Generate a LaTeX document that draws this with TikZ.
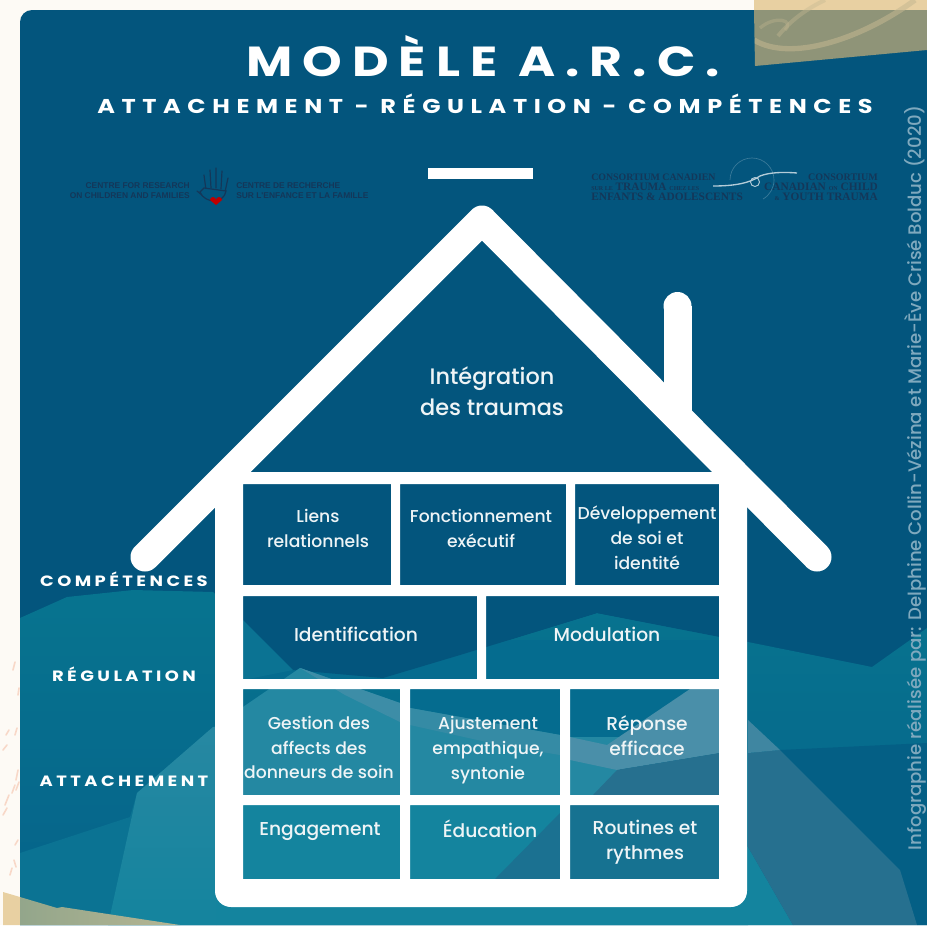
\documentclass[tikz,border=0pt]{standalone}
\usepackage{fontspec}
\setmainfont{Poppins Medium}[BoldFont=Poppins Bold]
\newfontfamily\logoserif{Liberation Serif}
\newfontfamily\logosans{Liberation Sans}
\newcommand{\wideface}[1]{\addfontfeature{FakeStretch=1.2,LetterSpace=#1}}
\definecolor{cA}{HTML}{03557D}
\definecolor{cB}{HTML}{056C8F}
\definecolor{cBt}{HTML}{07748F}
\definecolor{cBb}{HTML}{05628A}
\definecolor{cC}{HTML}{0B7393}
\definecolor{cD}{HTML}{14849E}
\definecolor{cE}{HTML}{2488A2}
\definecolor{cF}{HTML}{26708F}
\definecolor{cG}{HTML}{045F85}
\definecolor{cH}{HTML}{4A8FA9}
\definecolor{logoink}{HTML}{143759}
\definecolor{paper}{HTML}{FDFAF5}
\definecolor{beige}{HTML}{E8D0A2}
\definecolor{olive}{HTML}{8F9478}
\definecolor{sage}{HTML}{93A68B}
\definecolor{sidetext}{HTML}{7FA9BE}
\definecolor{boxink}{HTML}{EEF4F6}
\tikzset{
  x=0.75pt,y=-0.75pt,
  boxtext/.style={text=boxink,align=center,font=\fontsize{12.9}{18.6}\selectfont,inner sep=0pt},
  boxbig/.style={boxtext,font=\fontsize{14}{18.6}\selectfont},
  sidelabel/.style={text=white,inner sep=0pt,font=\fontsize{11.2}{13}\bfseries\selectfont\wideface{23}},
  roofline/.style={draw=white,line width=21.75pt,line cap=round,line join=round},
  logoen/.style={text=logoink,inner sep=0pt,align=right,font=\logosans\fontsize{6.3}{8}\bfseries\selectfont},
  logofr/.style={text=logoink,inner sep=0pt,align=left,font=\logosans\fontsize{6.3}{8}\bfseries\selectfont},
  logotr/.style={text=logoink,inner sep=0pt,font=\logoserif\fontsize{8.5}{7.5}\bfseries\selectfont},
  streak/.style={line width=1.2pt,line cap=round,opacity=.75},
}
\begin{document}
\begin{tikzpicture}
\useasboundingbox (0,0) rectangle (927,925);
\fill[paper] (0,0) rectangle (927,925);
% speckles on the paper
\foreach \ax/\ay/\bx/\by in {6/735/9/730,17/728/15/735,3/750/7/745,16/780/18/770,5/805/9/795,12/793/15/785,3/815/7/808,15/845/18/840,14/860/16/867,13/670/15/662,16/790/19/782,10/875/12/868,18/695/19/688}
  \draw[streak,color={rgb,255:red,247;green,205;blue,185}] (\ax,\ay) -- (\bx,\by);
% card
\begin{scope}
\clip[rounded corners=9pt] (20,10) -- (927,10) -- (927,940) -- (20,940) -- cycle;
\fill[cA] (0,0) rectangle (927,925);
\shade[top color=cBt,bottom color=cBb,shading angle=0] (20,618) -- (67,597) -- (133,590) -- (213,592) -- (243,620) -- (293,670) -- (383,678) -- (460,655) -- (597,613) -- (748,642) -- (872,667) -- (927,628) -- (927,925) -- (20,925) -- cycle;
\fill[cB] (243,640) rectangle (720,679);
\fill[cA] (243,596) -- (243,620) -- (293,670) -- (383,678) -- (460,655) -- (597,613) -- (720,637) -- (720,596) -- cycle;
\fill[cB] (400,689) rectangle (720,735);
\fill[cC] (20,853) -- (130,817) -- (137,793) -- (213,727) -- (300,668) -- (410,708) -- (560,735) -- (748,750) -- (748,925) -- (20,925) -- cycle;
\shade[top color=cH!35!cD,bottom color=cD,shading angle=0] (137,793) -- (213,727) -- (216,727) -- (216,925) -- (108,925) -- cycle;
\fill[cD] (216,795) -- (216,925) -- (793,925) -- (748,847) -- (560,795) -- cycle;
% inside the house
\fill[cE] (243,707) -- (300,668) -- (400,703) -- (400,795) -- (243,795) -- cycle;
\fill[cH!65!cE] (300,668) -- (400,703) -- (400,722) -- (345,695) -- cycle;
\fill[cE] (410,708) -- (560,735) -- (560,795) -- (410,795) -- cycle;
\fill[cH!45!cE] (410,708) -- (560,735) -- (560,755) -- (500,745) -- (410,725) -- cycle;
\fill[cB] (570,689) rectangle (720,795);
\fill[cE] (570,737) rectangle (620,795);
\fill[cH] (570,737) -- (607,745) -- (690,689) -- (720,689) -- (720,753) -- (617,770) -- (570,760) -- cycle;
\fill[cF] (593,795) -- (617,770) -- (720,753) -- (720,795) -- cycle;
\fill[cF!60!cC] (560,813) -- (495,879) -- (560,879) -- cycle;
\fill[cF!40!cC] (570,805) rectangle (720,879);
\fill[cC] (243,620) -- (293,670) -- (243,680) -- cycle;
% right of the house
\fill[cG] (780,750) -- (927,743) -- (927,925) -- (917,925) -- (900,870) -- cycle;
\fill[cF] (748,753) -- (780,750) -- (900,870) -- (917,925) -- (793,925) -- (748,847) -- cycle;
\fill[cH!70!cF] (748,720) -- (780,750) -- (748,753) -- cycle;
\end{scope}
% house walls with the boxes cut out
\fill[white,even odd rule,rounded corners=9pt]
  (230,472) [sharp corners] -- (734,472) -- (747,490) [rounded corners=12pt] -- (747,907) -- (215,907) [sharp corners] -- (215,490) -- cycle
  (243,484) rectangle (391,585) (400,484) rectangle (566,585) (575,484) rectangle (719,585)
  (243,596) rectangle (477,679) (486,596) rectangle (719,679)
  (243,689) rectangle (400,795) (410,689) rectangle (560,795) (570,689) rectangle (719,795)
  (243,805) rectangle (400,879) (410,805) rectangle (560,879) (570,805) rectangle (719,879);
\draw[roofline] (145,557) -- (482,220) -- (817,557);
\draw[draw=white,line width=21pt,line cap=butt] (677.5,412) -- (677.5,306);
\fill[white] (677.5,306) circle[radius=14];
\fill[white] (428,168) rectangle (533,179);
% paper pieces
\fill[beige] (754,0) -- (927,0) -- (927,10) -- (754,10) -- cycle;
\fill[olive] (754,10) -- (927,10) -- (927,50) -- (755,66) -- cycle;
\begin{scope}
\clip (754,0) -- (927,0) -- (927,50) -- (755,66) -- cycle;
\draw[beige!60!olive,line width=4pt,opacity=.55] (754,40) .. controls (790,62) and (860,40) .. (915,0);
\draw[beige!60!olive,line width=3pt,opacity=.4] (778,36) .. controls (795,15) and (815,5) .. (825,0);
\draw[beige!60!olive,line width=2.5pt,opacity=.35] (760,28) .. controls (775,15) and (795,20) .. (785,30);
\end{scope}
\fill[beige] (3,892) -- (20,897) -- (20,925) -- (3,925) -- cycle;
\shade[left color=sage,right color=sage!55!beige!90!olive] (20,897) -- (57,908) -- (62,907) -- (180,925) -- (20,925) -- cycle;
% title
\node[text=white,inner sep=0pt,font=\fontsize{31.5}{36}\bfseries\selectfont\wideface{24}] (title) at (483,56) {MODÈLE A.R.C.};
\node[text=white,inner sep=0pt,font=\fontsize{15}{18}\bfseries\selectfont\wideface{33}] (subtitle) at (485,104) {ATTACHEMENT - RÉGULATION - COMPÉTENCES};
% left labels
\node[sidelabel] (lcomp) at (124,579) {COMPÉTENCES};
\node[sidelabel] (lreg) at (124,674) {RÉGULATION};
\node[sidelabel] (latt) at (124,781) {ATTACHEMENT};
% credit
\node[text=sidetext,rotate=90,inner sep=0pt,font=\fontsize{13.6}{16}\selectfont] (credit) at (915,478) {Infographie réalisée par: Delphine Collin-Vézina et Marie-Ève Crisé Bolduc (2020)};
% logos
\node[logoen,anchor=east] (crcfen) at (190,190.5) {CENTRE FOR RESEARCH\\ON CHILDREN AND FAMILIES};
\node[logofr,anchor=west] (crcffr) at (236,190.5) {CENTRE DE RECHERCHE\\SUR L'ENFANCE ET LA FAMILLE};
\draw[logoink,line width=.9pt,line cap=round]
  (206,190) -- (204,175) (211,188) -- (210,170) (216,188) -- (216,168) (221,189) -- (222,171) (225,192) -- (228,178) (203,196) -- (197,191);
\draw[logoink,fill=cA,line width=.9pt] (200,192) .. controls (205,204) and (224,204) .. (226,191) -- (204,188) -- cycle;
\fill[red!75!black] (216,205) -- (210,200) arc[start angle=180,end angle=360,radius=3] arc[start angle=180,end angle=360,radius=3] -- cycle;
\node[logotr,anchor=west,align=left] (cctfr) at (591,187) {{\fontsize{7.4}{7.5}\selectfont CONSORTIUM CANADIEN}\\{\fontsize{4.5}{7.5}\selectfont SUR LE} TRAUMA {\fontsize{4.5}{7.5}\selectfont CHEZ LES}\\ENFANTS \& ADOLESCENTS};
\node[logotr,anchor=east,align=right] (cctfen) at (878,187) {{\fontsize{7.5}{7.5}\selectfont CONSORTIUM}\\CANADIAN {\fontsize{4.5}{7.5}\selectfont ON} CHILD\\{\fontsize{4.5}{7.5}\selectfont \&} YOUTH TRAUMA};
\draw[sidetext!45!cA,line width=.5pt] (730,180) arc[start angle=180,end angle=420,radius=22];
\draw[white!70!cA,line width=1pt] (713,186) .. controls (735,186) and (750,183) .. (760,176) .. controls (770,172) and (785,172) .. (797,173);
\draw[white!70!cA,line width=.7pt] (755,182) circle[radius=4.5];
% boxes
\node[boxtext,font=\fontsize{16.8}{23.2}\selectfont] (t0) at (492,391.5) {Intégration\\des traumas};
\node[boxtext] (t1) at (318,528.5) {Liens\\relationnels};
\node[boxtext] (t2) at (481,528.5) {Fonctionnement\\exécutif};
\node[boxtext] (t3) at (647,537.5) {Développement\\de soi et\\identité};
\node[boxbig] (t4) at (356,634) {Identification};
\node[boxbig] (t5) at (607,634) {Modulation};
\node[boxtext] (t6) at (319,747.5) {Gestion des\\affects des\\donneurs de soin};
\node[boxtext] (t7) at (488,750) {Ajustement\\empathique,\\syntonie};
\node[boxbig] (t8) at (647,735.5) {Réponse\\efficace};
\node[boxbig] (t9) at (320,832) {Engagement};
\node[boxbig] (t10) at (490,829) {Éducation};
\node[boxbig] (t11) at (645,842.5) {Routines et\\rythmes};
\end{tikzpicture}
\end{document}
